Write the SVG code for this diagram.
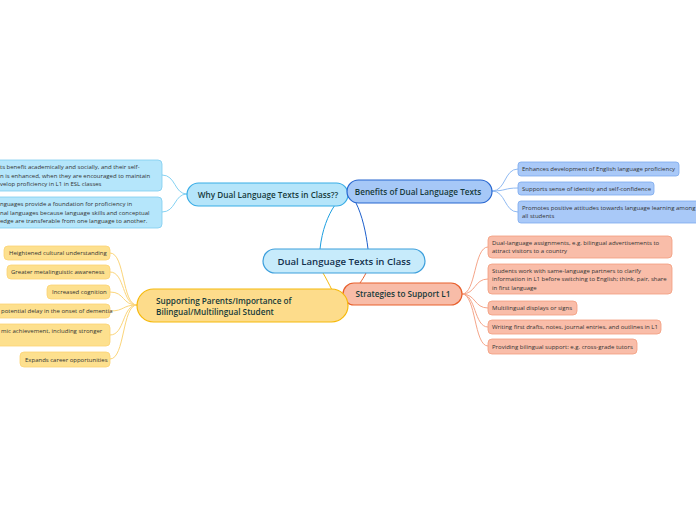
<svg xmlns="http://www.w3.org/2000/svg" width="696" height="520" viewBox="0 0 696 520">
<style>
text{font-family:"Open Sans","Noto Sans","Liberation Sans",sans-serif}
.main{font-size:9.6px;font-weight:600;fill:#12304d}
.topic{font-size:8.2px;font-weight:600;fill:#163a3a}
.sub{font-size:6px;fill:#333333}
.c{fill:none;stroke-width:1}
</style>
<rect width="696" height="520" fill="#ffffff"/>
<g id="connectors">
  <path class="c" d="M320,249 C322,230 328,215 335,205" stroke="#1e9fe0" stroke-width="1.5"/>
  <path class="c" d="M368,249 C366,232 362,215 356,203" stroke="#1d5fcc" stroke-width="1.5"/>
  <path class="c" d="M366,273 C364,277 362,280 360,283" stroke="#e8602d" stroke-width="1.5"/>
  <path class="c" d="M323,273 C326,278 329,284 332,290" stroke="#f6b90c" stroke-width="1.5"/>
  <g stroke="#90baf2">
    <path class="c" d="M492,191 C506,191 504,169 518,169"/>
    <path class="c" d="M492,191 C506,191 504,188 518,188"/>
    <path class="c" d="M492,191 C506,191 504,212 518,212"/>
  </g>
  <g stroke="#85d2f3">
    <path class="c" d="M187,194 C174,194 176,175 162,175"/>
    <path class="c" d="M187,194 C174,194 176,212 162,212"/>
  </g>
  <g stroke="#f5a589">
    <path class="c" d="M462,294 C476,294 474,247 488,247"/>
    <path class="c" d="M462,294 C476,294 474,279 488,279"/>
    <path class="c" d="M462,294 C476,294 474,308 488,308"/>
    <path class="c" d="M462,294 C476,294 474,327 488,327"/>
    <path class="c" d="M462,294 C476,294 474,346 488,346"/>
  </g>
  <g stroke="#fbd57a">
    <path class="c" d="M137,305 C122,305 125,253 110,253"/>
    <path class="c" d="M137,305 C122,305 125,272 110,272"/>
    <path class="c" d="M137,305 C122,305 125,292 110,292"/>
    <path class="c" d="M137,305 C122,305 125,311 110,311"/>
    <path class="c" d="M137,305 C122,305 125,335 110,335"/>
    <path class="c" d="M137,305 C122,305 125,359 110,359"/>
  </g>
</g>
<g id="central">
  <rect x="263" y="249" width="162" height="24" rx="12" fill="#c7ebfb" stroke="#3d9fdc" stroke-width="1.2"/>
  <text class="main" x="344" y="264.5" text-anchor="middle">Dual Language Texts in Class</text>
</g>
<g id="why">
  <rect x="187" y="183" width="161" height="23" rx="11.5" fill="#b5e5fa" stroke="#39ade6" stroke-width="1.2"/>
  <text class="topic" x="268" y="197.5" text-anchor="middle">Why Dual Language Texts in Class??</text>
</g>
<g id="benefits">
  <rect x="347" y="180" width="145" height="23" rx="11.5" fill="#a6c8f7" stroke="#2766d0" stroke-width="1.2"/>
  <text class="topic" x="418" y="194.5" text-anchor="middle">Benefits of Dual Language Texts</text>
</g>
<g id="strategies">
  <rect x="343" y="283" width="119" height="22" rx="11" fill="#f8bca8" stroke="#e8602d" stroke-width="1.2"/>
  <text class="topic" x="403" y="297" text-anchor="middle">Strategies to Support L1</text>
</g>
<g id="supporting">
  <rect x="137" y="289" width="211" height="33" rx="16.5" fill="#fddc8b" stroke="#f6b90c" stroke-width="1.2"/>
  <text class="topic" x="156" y="304">Supporting Parents/Importance of</text>
  <text class="topic" x="156" y="315">Bilingual/Multilingual Student</text>
</g>
<g id="benefit1">
  <rect x="518" y="162" width="161" height="14" rx="3" fill="#a9c9f8" stroke="#7ba9ee" stroke-width="0.8"/>
  <text class="sub" x="522" y="171.3">Enhances development of English language proficiency</text>
</g>
<g id="benefit2">
  <rect x="518" y="182" width="136" height="13" rx="3" fill="#a9c9f8" stroke="#7ba9ee" stroke-width="0.8"/>
  <text class="sub" x="522" y="190.8">Supports sense of identity and self-confidence</text>
</g>
<g id="benefit3">
  <rect x="518" y="201" width="190" height="22" rx="3" fill="#a9c9f8" stroke="#7ba9ee" stroke-width="0.8"/>
  <text class="sub" x="522" y="209.8">Promotes positive attitudes towards language learning among</text>
  <text class="sub" x="522" y="218.3">all students</text>
</g>
<g id="why1">
  <rect x="-40" y="160" width="202" height="31" rx="4" fill="#b5e6fb" stroke="#7fcdf0" stroke-width="0.8"/>
  <text class="sub" x="0" y="169">ts benefit academically and socially, and their self-</text>
  <text class="sub" x="0" y="177.5">n is enhanced, when they are encouraged to maintain</text>
  <text class="sub" x="0" y="186">velop proficiency in L1 in ESL classes</text>
</g>
<g id="why2">
  <rect x="-40" y="197" width="202" height="31" rx="4" fill="#b5e6fb" stroke="#7fcdf0" stroke-width="0.8"/>
  <text class="sub" x="0" y="206">nguages provide a foundation for  proficiency in</text>
  <text class="sub" x="0" y="214.5">nal languages because language skills and conceptual</text>
  <text class="sub" x="0" y="223">edge are transferable from one language to another.</text>
</g>
<g id="strategy1">
  <rect x="488" y="236" width="184" height="22" rx="4" fill="#f9bda9" stroke="#f29d7e" stroke-width="0.8"/>
  <text class="sub" x="492" y="244.5">Dual-language assignments, e.g. bilingual advertisements to</text>
  <text class="sub" x="492" y="253">attract visitors to a country</text>
</g>
<g id="strategy2">
  <rect x="488" y="264" width="184" height="30" rx="4" fill="#f9bda9" stroke="#f29d7e" stroke-width="0.8"/>
  <text class="sub" x="492" y="272.5">Students work with same-language partners to clarify</text>
  <text class="sub" x="492" y="281">information in L1 before switching to English;  think, pair, share</text>
  <text class="sub" x="492" y="289.5">in first language</text>
</g>
<g id="strategy3">
  <rect x="488" y="301" width="89" height="14" rx="4" fill="#f9bda9" stroke="#f29d7e" stroke-width="0.8"/>
  <text class="sub" x="492" y="310.3">Multilingual displays or signs</text>
</g>
<g id="strategy4">
  <rect x="488" y="320" width="173" height="14" rx="4" fill="#f9bda9" stroke="#f29d7e" stroke-width="0.8"/>
  <text class="sub" x="492" y="329.3">Writing first drafts, notes, journal entries, and outlines in L1</text>
</g>
<g id="strategy5">
  <rect x="488" y="339" width="149" height="15" rx="4" fill="#f9bda9" stroke="#f29d7e" stroke-width="0.8"/>
  <text class="sub" x="492" y="348.7">Providing bilingual support: e.g. cross-grade tutors</text>
</g>
<g id="support1">
  <rect x="4" y="246" width="106" height="14" rx="4" fill="#fde08e" stroke="#fbd374" stroke-width="0.8"/>
  <text class="sub" x="9" y="255.3">Heightened cultural understanding</text>
</g>
<g id="support2">
  <rect x="7" y="265" width="103" height="14" rx="4" fill="#fde08e" stroke="#fbd374" stroke-width="0.8"/>
  <text class="sub" x="11" y="274.3">Greater metalinguistic awareness</text>
</g>
<g id="support3">
  <rect x="47" y="285" width="63" height="14" rx="4" fill="#fde08e" stroke="#fbd374" stroke-width="0.8"/>
  <text class="sub" x="52" y="294.3">Increased cognition</text>
</g>
<g id="support4">
  <rect x="-60" y="304" width="170" height="14" rx="4" fill="#fde08e" stroke="#fbd374" stroke-width="0.8"/>
  <text class="sub" x="1" y="313.3">potential delay in the onset of dementia</text>
</g>
<g id="support5">
  <rect x="-60" y="324" width="170" height="22" rx="4" fill="#fde08e" stroke="#fbd374" stroke-width="0.8"/>
  <text class="sub" x="1" y="332.8">mic achievement, including stronger</text>
</g>
<g id="support6">
  <rect x="20" y="352" width="90" height="15" rx="4" fill="#fde08e" stroke="#fbd374" stroke-width="0.8"/>
  <text class="sub" x="25" y="361.7">Expands career opportunities</text>
</g>
</svg>
